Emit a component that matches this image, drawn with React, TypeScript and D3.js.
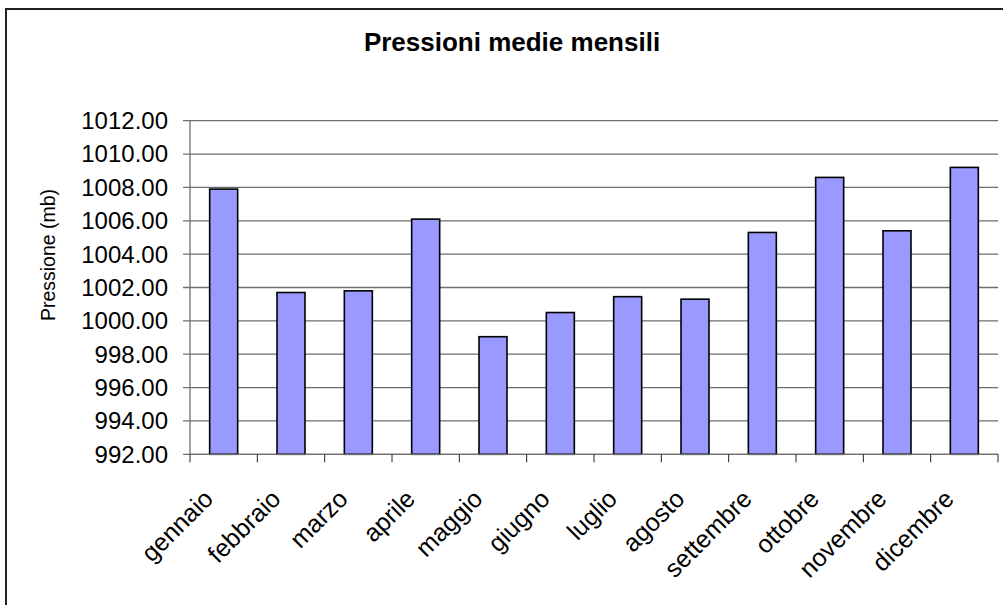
import * as React from "react";
import * as d3 from "d3";

const months = [
  "gennaio",
  "febbraio",
  "marzo",
  "aprile",
  "maggio",
  "giugno",
  "luglio",
  "agosto",
  "settembre",
  "ottobre",
  "novembre",
  "dicembre",
];
const pressures = [1007.9, 1001.7, 1001.8, 1006.1, 999.05, 1000.5, 1001.45, 1001.3, 1005.3, 1008.6, 1005.4, 1009.2];
const yTicks = [992, 994, 996, 998, 1000, 1002, 1004, 1006, 1008, 1010, 1012];

const title = "Pressioni medie mensili";
const yTitle = "Pressione (mb)";

const W = 1003;
const H = 605;
const plot = { left: 190, right: 998, top: 120.7, bottom: 454.3 };
const font = "'Liberation Sans', Arial, sans-serif";

const App = () => {
  const x = d3
    .scaleBand()
    .domain(months)
    .range([plot.left, plot.right])
    .paddingInner(0)
    .paddingOuter(0);
  const y = d3.scaleLinear().domain([992, 1012]).range([plot.bottom, plot.top]);
  const fmt = d3.format(".2f");
  const barW = 28;
  const boundaries = d3.range(months.length + 1).map(i => plot.left + i * x.step());

  return (
    <svg
      width={W}
      height={H}
      style={{ position: "absolute", left: 0, top: 0, background: "#fff" }}
      fontFamily={font}
    >
      <rect x={0} y={0} width={W} height={H} fill="#fff" />
      <rect x={6} y={9} width={1020} height={640} fill="none" stroke="#222" strokeWidth={2} />

      <text x={512} y={51} textAnchor="middle" fontSize={26} fontWeight="bold" fill="#000">
        {title}
      </text>

      {/* gridlines + y ticks */}
      {yTicks.map(t => (
        <g key={t}>
          <line x1={plot.left - 7} x2={plot.right} y1={y(t)} y2={y(t)} stroke="#6e6e6e" strokeWidth={1.3} />
          <text
            x={168}
            y={y(t)}
            dy="0.35em"
            textAnchor="end"
            fontSize={24}
            fill="#000"
          >
            {fmt(t)}
          </text>
        </g>
      ))}

      <line x1={plot.left} x2={plot.left} y1={plot.top} y2={plot.bottom} stroke="#6e6e6e" strokeWidth={1.3} />

      {/* bars */}
      {months.map((m, i) => {
        const cx = (x(m) as number) + x.bandwidth() / 2;
        return (
          <rect
            key={m}
            x={cx - barW / 2}
            y={y(pressures[i])}
            width={barW}
            height={y(992) - y(pressures[i])}
            fill="#9999ff"
            stroke="#000"
            strokeWidth={1.6}
          />
        );
      })}

      {/* x axis */}
      <line x1={plot.left} x2={plot.right} y1={plot.bottom} y2={plot.bottom} stroke="#6e6e6e" strokeWidth={1.3} />
      {boundaries.map((bx, i) => (
        <line key={i} x1={bx} x2={bx} y1={plot.bottom} y2={plot.bottom + 8} stroke="#222" strokeWidth={1} />
      ))}

      {months.map(m => {
        const ax = (x(m) as number) + x.bandwidth() / 2 - 9;
        const ay = plot.bottom + 46;
        return (
          <text
            key={m}
            x={ax}
            y={ay}
            textAnchor="end"
            fontSize={25}
            fill="#000"
            transform={`rotate(-45 ${ax} ${ay})`}
          >
            {m}
          </text>
        );
      })}

      <text
        x={55}
        y={255}
        textAnchor="middle"
        fontSize={19.5}
        fill="#000"
        transform="rotate(-90 55 255)"
      >
        {yTitle}
      </text>
    </svg>
  );
};

export default App;
